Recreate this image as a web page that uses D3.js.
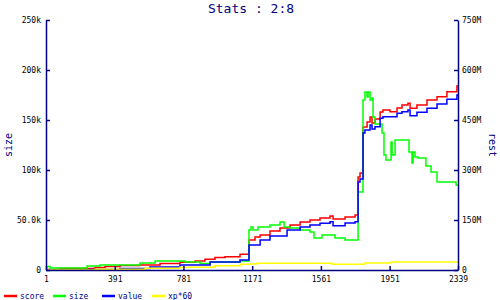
<!DOCTYPE html>
<html>
<head>
<meta charset="utf-8">
<title>Stats : 2:8</title>
<script src="https://cdn.jsdelivr.net/npm/d3@7"></script>
<style>
    body { margin: 0; background: #fff; }
    text { font-family: "DejaVu Sans Mono", monospace; }
</style>
</head>
<body>
<div id="chart"></div>
<script>
    // data: [index, value]
    var score = [[1,1.5e6],[80,4.5e6],[279,7.5e6],[336,10.5e6],[421,13.5e6],[534,15e6],[648,19.5e6],[761,23e6],
        [847,27e6],[903,32e6],[960,37.5e6],[1017,40e6],[1102,47e6],[1153,90e6],[1187,99e6],[1216,105e6],
        [1272,117e6],[1329,126e6],[1386,135e6],[1443,144e6],[1499,150e6],[1556,156e6],[1613,162e6],[1630,153e6],
        [1698,159e6],[1755,165e6],[1772,279e6],[1783,291e6],[1800,429e6],[1823,444e6],[1840,459e6],[1851,441e6],
        [1868,453e6],[1897,474e6],[1913,480e6],[1953,475e6],[1993,486e6],[2021,495e6],[2055,500e6],[2067,485e6],
        [2106,495e6],[2163,510e6],[2220,520e6],[2276,535e6],[2333,552e6],[2339,555e6]];

    var size = [[1,3.5e3],[24,2e3],[234,4e3],[307,5e3],[534,7e3],[620,9e3],[790,8e3],[875,6.5e3],[932,8e3],
        [1102,9e3],[1153,40e3],[1164,43e3],[1176,40e3],[1204,43e3],[1272,45e3],[1329,48e3],[1352,43e3],
        [1386,42e3],[1443,40e3],[1499,38e3],[1522,32e3],[1567,35e3],[1641,32e3],[1698,30e3],[1772,78e3],
        [1800,170e3],[1811,178e3],[1823,173e3],[1829,178e3],[1840,170e3],[1851,172e3],[1857,153e3],[1868,146e3],
        [1908,137e3],[1919,115e3],[1930,110e3],[1959,128e3],[1965,115e3],[1982,130e3],[2061,118e3],[2078,107e3],
        [2084,118e3],[2095,113e3],[2112,112e3],[2157,104e3],[2186,98e3],[2220,88e3],[2328,85e3],[2339,85e3]];

    var value = [[1,0],[251,1.5e6],[421,4.5e6],[591,9e6],[761,15e6],[932,24e6],[1102,30e6],[1153,75e6],
        [1216,90e6],[1272,102e6],[1369,120e6],[1443,129e6],[1499,135e6],[1556,140e6],[1613,145e6],[1630,133e6],
        [1698,141e6],[1755,145e6],[1772,264e6],[1783,273e6],[1800,411e6],[1811,420e6],[1840,435e6],[1851,423e6],
        [1868,430e6],[1897,455e6],[1913,460e6],[1993,470e6],[2021,475e6],[2055,480e6],[2067,463e6],[2106,473e6],
        [2163,485e6],[2220,498e6],[2276,512e6],[2333,525e6],[2339,527e6]];

    var xp60 = [[1,0],[279,2e6],[563,5e6],[761,8e6],[960,13e6],[1102,17e6],[1159,18e6],[1199,20e6],
        [1624,17e6],[1811,21e6],[1959,24e6],[2339,24e6]];

    var xTicks = [1, 391, 781, 1171, 1561, 1951, 2339];
    var leftTicks = [0, 50e3, 100e3, 150e3, 200e3, 250e3];
    var rightTicks = [0, 150e6, 300e6, 450e6, 600e6, 750e6];

    var series = [
        { name: 'score', color: '#ff0000', axis: 'right', data: score },
        { name: 'size', color: '#00ff00', axis: 'left', data: size },
        { name: 'value', color: '#0000ff', axis: 'right', data: value },
        { name: 'xp*60', color: '#ffff00', axis: 'right', data: xp60 }
    ];

    var width = 500, height = 300,
        navy = '#000080';

    var svg = d3.select('#chart').append('svg')
        .attr('width', width)
        .attr('height', height);

    var x = d3.scaleLinear().domain([1, 2339]).range([46, 458]);
    var yL = d3.scaleLinear().domain([0, 250e3]).range([270, 20]);
    var yR = d3.scaleLinear().domain([0, 750e6]).range([270, 20]);

    function fmt(d) { return d === 0 ? '0' : d3.format('.3s')(d); }

    // lines, step style
    series.forEach(function(s) {
        var y = s.axis === 'left' ? yL : yR;
        var line = d3.line()
            .x(function(d) { return x(d[0]); })
            .y(function(d) { return y(d[1]); })
            .curve(d3.curveStepAfter);
        svg.append('path')
            .datum(s.data)
            .attr('fill', 'none')
            .attr('stroke', s.color)
            .attr('stroke-width', 1.5)
            .attr('d', line);
    });

    // axes
    var gx = svg.append('g').attr('transform', 'translate(0,270)')
        .call(d3.axisBottom(x).tickValues(xTicks).tickFormat(d3.format('d'))
            .tickSizeInner(-4).tickSizeOuter(0).tickPadding(6));
    var gl = svg.append('g').attr('transform', 'translate(46,0)')
        .call(d3.axisLeft(yL).tickValues(leftTicks).tickFormat(fmt)
            .tickSizeInner(-4).tickSizeOuter(0).tickPadding(5));
    var gr = svg.append('g').attr('transform', 'translate(458,0)')
        .call(d3.axisRight(yR).tickValues(rightTicks).tickFormat(fmt)
            .tickSizeInner(-4).tickSizeOuter(0).tickPadding(4));

    [gx, gl, gr].forEach(function(g) {
        g.select('.domain').attr('stroke', navy).attr('stroke-width', 1.5);
        g.selectAll('.tick line').attr('stroke', navy).attr('stroke-width', 1.5);
        g.selectAll('.tick text').attr('fill', '#000')
            .style('font-family', '"DejaVu Sans Mono", monospace').style('font-size', '8px');
    });

    // title
    svg.append('text')
        .attr('x', 251).attr('y', 13)
        .attr('text-anchor', 'middle')
        .attr('fill', navy)
        .style('font-size', '13px')
        .text('Stats : 2:8');

    // axis titles
    svg.append('text')
        .attr('transform', 'translate(12,145) rotate(-90)')
        .attr('text-anchor', 'middle')
        .attr('fill', navy)
        .style('font-size', '10px')
        .text('size');
    svg.append('text')
        .attr('transform', 'translate(489,145) rotate(90)')
        .attr('text-anchor', 'middle')
        .attr('fill', navy)
        .style('font-size', '10px')
        .text('rest');

    // legend
    var legendX = [4, 53, 102, 152];
    var legend = svg.selectAll('g.legend')
        .data(series)
        .enter()
        .append('g')
        .attr('class', 'legend')
        .attr('transform', function(d, i) { return 'translate(' + legendX[i] + ',296)'; });
    legend.append('line')
        .attr('x1', 0).attr('x2', 13)
        .attr('stroke', function(d) { return d.color; })
        .attr('stroke-width', 2.5);
    legend.append('text')
        .attr('x', 16).attr('y', 3)
        .attr('fill', navy)
        .style('font-size', '8px')
        .text(function(d) { return d.name; });
</script>
</body>
</html>
